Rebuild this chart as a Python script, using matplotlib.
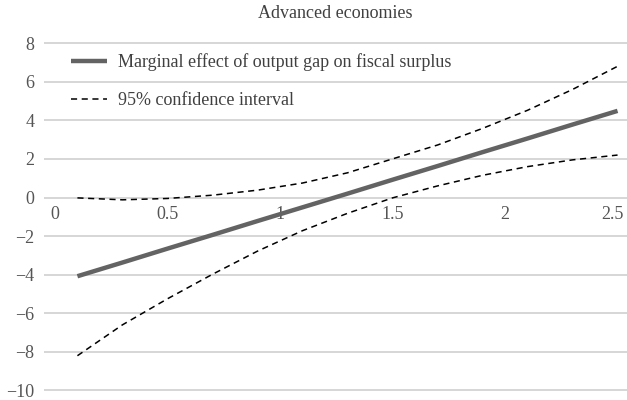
import matplotlib.pyplot as plt
from matplotlib.transforms import ScaledTranslation

plt.rcParams['font.family'] = ['Liberation Serif', 'DejaVu Serif']

# marginal effect and 95% band, read at a few output-gap values
gap = [0.1, 0.3, 0.5, 0.7, 0.9, 1.1, 1.3, 1.5, 1.7, 1.9, 2.1, 2.3, 2.5]
effect = [-4.08, -3.37, -2.65, -1.94, -1.22, -0.51, 0.20, 0.92, 1.63, 2.35, 3.06, 3.78, 4.49]
upper = [-0.02, -0.12, -0.05, 0.12, 0.38, 0.75, 1.28, 2.0, 2.72, 3.58, 4.52, 5.6, 6.8]
lower = [-8.2, -6.6, -5.25, -3.98, -2.78, -1.72, -0.82, -0.02, 0.6, 1.15, 1.6, 1.95, 2.2]

xticks = [0, 0.5, 1, 1.5, 2, 2.5]
xlabels = ['0', '0.5', '1', '1.5', '2', '2.5']
yticks = [-10, -8, -6, -4, -2, 0, 2, 4, 6, 8]

fig = plt.figure(figsize=(6.27, 4.0), dpi=100)
ax = fig.add_axes([0.070, 0.02, 0.930, 0.876])

ax.plot(gap, effect, color='#636363', lw=3.2, solid_capstyle='butt',
        label='Marginal effect of output gap on fiscal surplus', zorder=3)
ax.plot(gap, upper, color='black', lw=1.1, dashes=(4, 3),
        label='95% confidence interval', zorder=3)
ax.plot(gap, lower, color='black', lw=1.1, dashes=(4, 3), zorder=3)

ax.set_xlim(-0.049, 2.542)
ax.set_ylim(-10.08, 8.08)
ax.set_yticks(yticks)
ax.set_yticklabels(['\u2212' + str(-v) if v < 0 else str(v) for v in yticks])
ax.set_xticks(xticks)
ax.set_xticklabels(xlabels)

for s in ax.spines.values():
    s.set_visible(False)
ax.spines['bottom'].set_position(('data', 0))
ax.grid(axis='y', color='#d0d0d0', lw=1.2)
ax.set_axisbelow(True)
ax.tick_params(axis='both', length=0, labelsize=13, colors='#555555')
ax.tick_params(axis='y', pad=7)
ax.tick_params(axis='x', pad=6)

# keep the last x label inside the figure edge
last = ax.get_xticklabels()[-1]
last.set_transform(last.get_transform() + ScaledTranslation(-5 / 100, 0, fig.dpi_scale_trans))

ax.set_title('Advanced economies', fontsize=13, color='#404040', pad=17)

leg = ax.legend(loc='upper left', bbox_to_anchor=(0.018, 1.013), frameon=False,
                fontsize=13, handlelength=2.0, handletextpad=0.6,
                labelspacing=1.17, labelcolor='#404040')

fig.savefig('out.png', dpi=100)
